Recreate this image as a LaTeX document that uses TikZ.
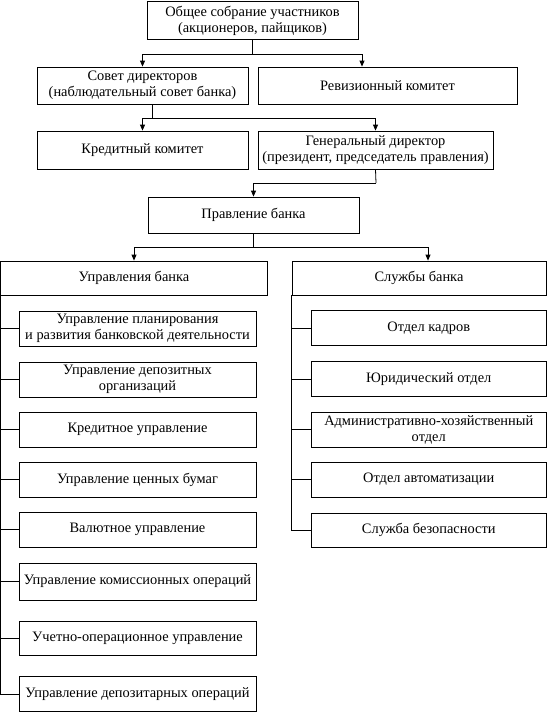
\documentclass[tikz,border=0pt]{standalone}
\usepackage{fontspec}
\setmainfont{Liberation Serif}
\usetikzlibrary{arrows.meta}
\newcommand{\boxfont}{\fontsize{14.4}{16}\selectfont}
\tikzset{
  unit/.style={draw, rectangle, align=center, font=\boxfont, inner sep=1pt, line width=0.8pt},
  top/.style={unit, minimum width=211pt, minimum height=38pt},
  head/.style={unit, minimum height=34pt},
  sub/.style={unit, minimum width=237pt, minimum height=35pt},
  srv/.style={unit, minimum width=235pt, minimum height=35pt},
  link/.style={line width=0.8pt},
  arr/.style={link, -{Triangle[length=6pt,width=5pt]}},
}
\begin{document}
\begin{tikzpicture}[x=1pt,y=-1pt]
\useasboundingbox (0,0) rectangle (547,712);
\node[top] (meeting) at (252.5,20.5) {Общее собрание участников\\(акционеров, пайщиков)};
\node[top, minimum height=37pt] (board) at (142.5,85.5) {Совет директоров\\(наблюдательный совет банка)};
\node[unit, minimum width=259pt, minimum height=37pt] (audit) at (387.5,85.5) {Ревизионный комитет};
\node[top] (credit) at (142.5,150) {Кредитный комитет};
\node[unit, minimum width=235pt, minimum height=38pt] (ceo) at (375.5,150) {Генеральный директор\\(президент, председатель правления)};
\node[top, minimum height=36pt] (mgmt) at (253.5,215) {Правление банка};
\node[head, minimum width=267pt] (depts) at (134,278) {Управления банка};
\node[head, minimum width=254pt] (services) at (419,278) {Службы банка};

\node[sub] (d1) at (137.5,328.5) {Управление планирования\\и развития банковской деятельности};
\node[sub] (d2) at (137.5,379.5) {Управление депозитных\\организаций};
\node[sub] (d3) at (137.5,429.5) {Кредитное управление};
\node[sub] (d4) at (137.5,479.5) {Управление ценных бумаг};
\node[sub] (d5) at (137.5,529.5) {Валютное управление};
\node[sub, minimum height=37pt] (d6) at (137.5,581.5) {Управление комиссионных операций};
\node[sub, minimum height=34pt] (d7) at (137.5,638) {Учетно-операционное управление};
\node[sub] (d8) at (137.5,694) {Управление депозитарных операций};

\node[srv] (s1) at (428.75,328) {Отдел кадров};
\node[srv] (s2) at (428.75,379) {Юридический отдел};
\node[srv] (s3) at (428.75,429.5) {Административно-хозяйственный\\отдел};
\node[srv] (s4) at (428.75,479.5) {Отдел автоматизации};
\node[srv, minimum height=34pt] (s5) at (428.75,530) {Служба безопасности};

\coordinate (j1) at (252.5,54);
\draw[link] (meeting.south) -- (j1);
\draw[arr] (j1) -| (board.north);
\draw[arr] (j1) -| ([xshift=-25.5pt]audit.north);
\coordinate (j2) at (152.5,118);
\draw[link] ([xshift=10pt]board.south) -- (j2);
\draw[arr] (j2) -| (credit.north);
\draw[arr] (j2) -| (ceo.north);
\coordinate (j3) at (376,183);
\draw[link] (ceo.south) -- (j3);
\draw[arr] (j3) -| (mgmt.north);
\coordinate (j4) at (253.5,247);
\draw[link] (mgmt.south) -- (j4);
\draw[arr] (j4) -| (depts.north);
\draw[arr] (j4) -| ([xshift=9pt]services.north);

\draw[link] (depts.south west) |- (d8.west);
\foreach \n in {d1,d2,d3,d4,d5,d6,d7}
  \draw[link] (depts.west |- \n.west) -- (\n.west);
\draw[link] (services.south west) |- (s5.west);
\foreach \n in {s1,s2,s3,s4}
  \draw[link] (services.west |- \n.west) -- (\n.west);
\end{tikzpicture}
\end{document}
